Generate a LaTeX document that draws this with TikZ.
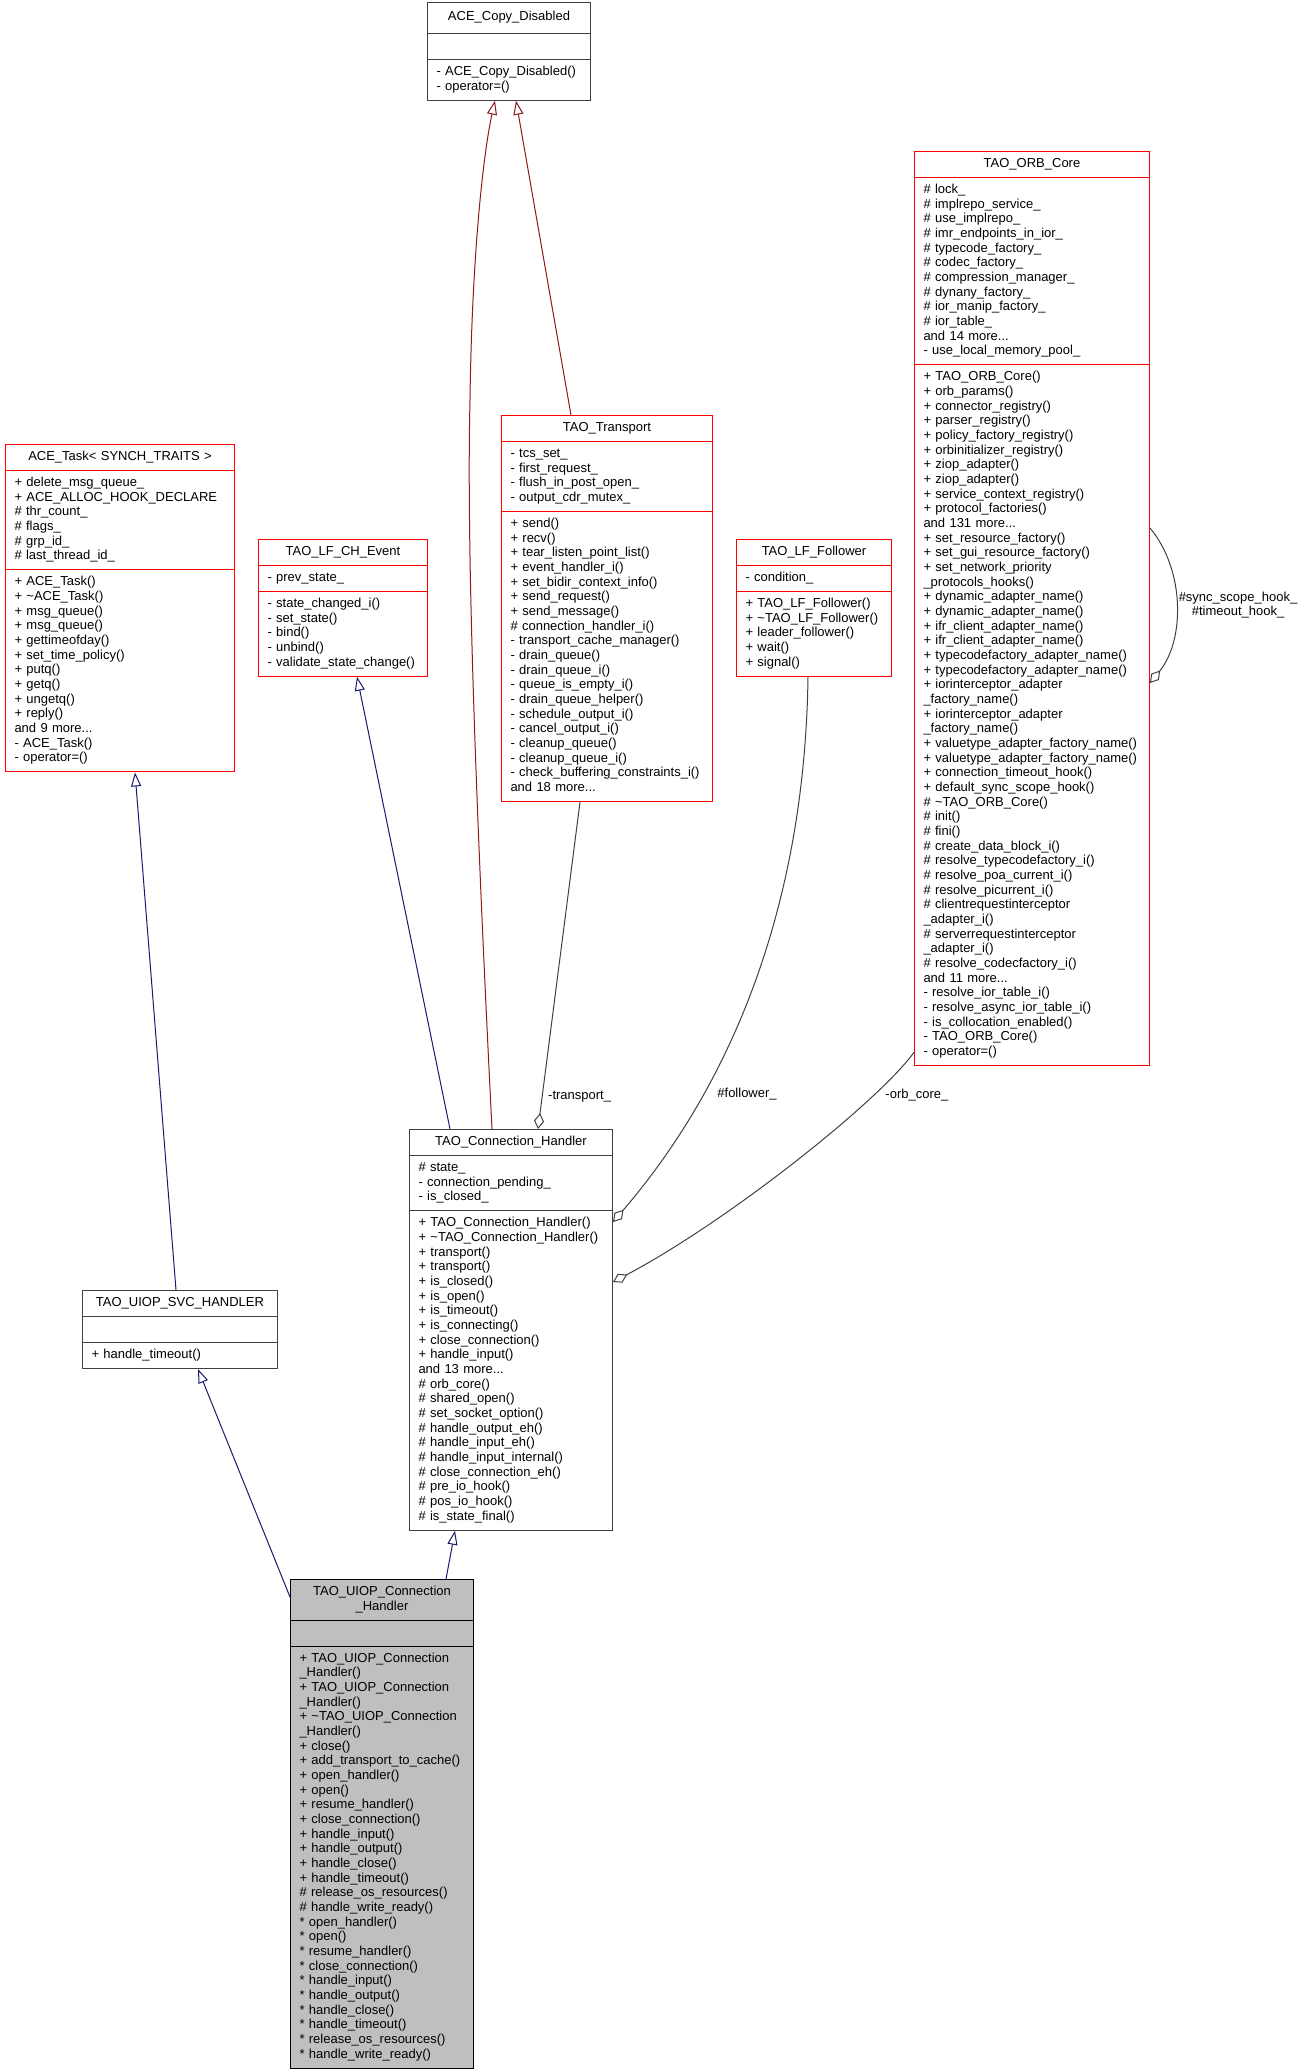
\documentclass[tikz,border=0pt]{standalone}
\usepackage{fontspec}
\setmainfont{Liberation Sans}
\usetikzlibrary{shapes.multipart,arrows.meta,calc}
\definecolor{darkred}{HTML}{8B1A1A}
\definecolor{navy}{HTML}{191970}
\definecolor{edgegrey}{HTML}{404040}
\definecolor{grey75}{HTML}{BFBFBF}
\hyphenpenalty=10000
\newcommand\mbr[1]{\strut#1\strut}
\newcommand\ttl[1]{\makebox[\linewidth]{\strut#1}}
\begin{document}
\begin{tikzpicture}[x=1pt, y=-1pt, font=\fontsize{13}{14.67}\selectfont, line width=1pt,
  cls/.style = {draw=edgegrey, rectangle split, rectangle split parts=3, anchor=north west, inner xsep=9pt, inner ysep=5.17pt, align=left},
  redcls/.style = {cls, draw=red},
  curcls/.style = {cls, draw=black, fill=grey75},
  inh/.style = {navy, -{Triangle[open, length=14pt, width=10pt]}},
  inhred/.style = {darkred, -{Triangle[open, length=14pt, width=10pt]}},
  agg/.style = {edgegrey, -{Diamond[open, length=16pt, width=10pt]}},
  lbl/.style = {inner sep=2pt, align=center, text=black}]
\useasboundingbox (0,0) rectangle (1303,2072);
\node[cls, text width=145pt] (cd) at (427,2) {\makebox[\linewidth]{\rule[-6.9pt]{0pt}{19.67pt}ACE\_Copy\_Disabled}
  \nodepart{two}\mbr{}
  \nodepart{three}\mbr{- ACE\_Copy\_Disabled()\\- operator=()}};
\node[redcls, text width=211pt] (task) at (5,444) {\ttl{ACE\_Task< SYNCH\_TRAITS >}
  \nodepart{two}\mbr{+ delete\_msg\_queue\_\\+ ACE\_ALLOC\_HOOK\_DECLARE\\\# thr\_count\_\\\# flags\_\\\# grp\_id\_\\\# last\_thread\_id\_}
  \nodepart{three}\mbr{+ ACE\_Task()\\+ \textasciitilde ACE\_Task()\\+ msg\_queue()\\+ msg\_queue()\\+ gettimeofday()\\+ set\_time\_policy()\\+ putq()\\+ getq()\\+ ungetq()\\+ reply()\\and 9 more...\\- ACE\_Task()\\- operator=()}};
\node[redcls, text width=151pt] (ev) at (258,539) {\ttl{TAO\_LF\_CH\_Event}
  \nodepart{two}\mbr{- prev\_state\_}
  \nodepart{three}\mbr{- state\_changed\_i()\\- set\_state()\\- bind()\\- unbind()\\- validate\_state\_change()}};
\node[redcls, text width=193pt] (tr) at (501,415) {\ttl{TAO\_Transport}
  \nodepart{two}\mbr{- tcs\_set\_\\- first\_request\_\\- flush\_in\_post\_open\_\\- output\_cdr\_mutex\_}
  \nodepart{three}\mbr{+ send()\\+ recv()\\+ tear\_listen\_point\_list()\\+ event\_handler\_i()\\+ set\_bidir\_context\_info()\\+ send\_request()\\+ send\_message()\\\# connection\_handler\_i()\\- transport\_cache\_manager()\\- drain\_queue()\\- drain\_queue\_i()\\- queue\_is\_empty\_i()\\- drain\_queue\_helper()\\- schedule\_output\_i()\\- cancel\_output\_i()\\- cleanup\_queue()\\- cleanup\_queue\_i()\\- check\_buffering\_constraints\_i()\\and 18 more...}};
\node[redcls, text width=137pt] (fo) at (736,539) {\ttl{TAO\_LF\_Follower}
  \nodepart{two}\mbr{- condition\_}
  \nodepart{three}\mbr{+ TAO\_LF\_Follower()\\+ \textasciitilde TAO\_LF\_Follower()\\+ leader\_follower()\\+ wait()\\+ signal()}};
\node[redcls, text width=217pt] (orb) at (914,151) {\ttl{TAO\_ORB\_Core}
  \nodepart{two}\mbr{\# lock\_\\\# implrepo\_service\_\\\# use\_implrepo\_\\\# imr\_endpoints\_in\_ior\_\\\# typecode\_factory\_\\\# codec\_factory\_\\\# compression\_manager\_\\\# dynany\_factory\_\\\# ior\_manip\_factory\_\\\# ior\_table\_\\and 14 more...\\- use\_local\_memory\_pool\_}
  \nodepart{three}\mbr{+ TAO\_ORB\_Core()\\+ orb\_params()\\+ connector\_registry()\\+ parser\_registry()\\+ policy\_factory\_registry()\\+ orbinitializer\_registry()\\+ ziop\_adapter()\\+ ziop\_adapter()\\+ service\_context\_registry()\\+ protocol\_factories()\\and 131 more...\\+ set\_resource\_factory()\\+ set\_gui\_resource\_factory()\\+ set\_network\_priority\\\_protocols\_hooks()\\+ dynamic\_adapter\_name()\\+ dynamic\_adapter\_name()\\+ ifr\_client\_adapter\_name()\\+ ifr\_client\_adapter\_name()\\+ typecodefactory\_adapter\_name()\\+ typecodefactory\_adapter\_name()\\+ iorinterceptor\_adapter\\\_factory\_name()\\+ iorinterceptor\_adapter\\\_factory\_name()\\+ valuetype\_adapter\_factory\_name()\\+ valuetype\_adapter\_factory\_name()\\+ connection\_timeout\_hook()\\+ default\_sync\_scope\_hook()\\\# \textasciitilde TAO\_ORB\_Core()\\\# init()\\\# fini()\\\# create\_data\_block\_i()\\\# resolve\_typecodefactory\_i()\\\# resolve\_poa\_current\_i()\\\# resolve\_picurrent\_i()\\\# clientrequestinterceptor\\\_adapter\_i()\\\# serverrequestinterceptor\\\_adapter\_i()\\\# resolve\_codecfactory\_i()\\and 11 more...\\- resolve\_ior\_table\_i()\\- resolve\_async\_ior\_table\_i()\\- is\_collocation\_enabled()\\- TAO\_ORB\_Core()\\- operator=()}};
\node[cls, text width=185pt] (ch) at (409,1129) {\ttl{TAO\_Connection\_Handler}
  \nodepart{two}\mbr{\# state\_\\- connection\_pending\_\\- is\_closed\_}
  \nodepart{three}\mbr{+ TAO\_Connection\_Handler()\\+ \textasciitilde TAO\_Connection\_Handler()\\+ transport()\\+ transport()\\+ is\_closed()\\+ is\_open()\\+ is\_timeout()\\+ is\_connecting()\\+ close\_connection()\\+ handle\_input()\\and 13 more...\\\# orb\_core()\\\# shared\_open()\\\# set\_socket\_option()\\\# handle\_output\_eh()\\\# handle\_input\_eh()\\\# handle\_input\_internal()\\\# close\_connection\_eh()\\\# pre\_io\_hook()\\\# pos\_io\_hook()\\\# is\_state\_final()}};
\node[cls, text width=177pt] (svc) at (82,1290) {\ttl{TAO\_UIOP\_SVC\_HANDLER}
  \nodepart{two}\mbr{}
  \nodepart{three}\mbr{+ handle\_timeout()}};
\node[curcls, text width=165pt] (uiop) at (290,1579) {\ttl{TAO\_UIOP\_Connection}\\\ttl{\_Handler}
  \nodepart{two}\mbr{}
  \nodepart{three}\mbr{+ TAO\_UIOP\_Connection\\\_Handler()\\+ TAO\_UIOP\_Connection\\\_Handler()\\+ \textasciitilde TAO\_UIOP\_Connection\\\_Handler()\\+ close()\\+ add\_transport\_to\_cache()\\+ open\_handler()\\+ open()\\+ resume\_handler()\\+ close\_connection()\\+ handle\_input()\\+ handle\_output()\\+ handle\_close()\\+ handle\_timeout()\\\# release\_os\_resources()\\\# handle\_write\_ready()\\{}* open\_handler()\\{}* open()\\{}* resume\_handler()\\{}* close\_connection()\\{}* handle\_input()\\{}* handle\_output()\\{}* handle\_close()\\{}* handle\_timeout()\\{}* release\_os\_resources()\\{}* handle\_write\_ready()}};
\draw[inh] ($(svc.north west)+(94,0)$) -- ($(task.south west)+(130,0)$);
\draw[inh] ($(ch.north west)+(41,0)$) -- ($(ev.south west)+(99,0)$);
\draw[inh] ($(uiop.north west)+(0,18)$) -- ($(svc.south west)+(116,0)$);
\draw[inh] ($(uiop.north west)+(156,0)$) -- ($(ch.south west)+(46,0)$);
\draw[inhred] ($(ch.north west)+(83,0)$) .. controls (478,850) and (466,560) .. (470,400) .. controls (472,250) and (484,150) .. ($(cd.south west)+(68,0)$);
\draw[inhred] ($(tr.north west)+(70,0)$) -- ($(cd.south west)+(89,0)$);
\draw[agg] ($(tr.south west)+(79,0)$) -- node[lbl, pos=0.9, right=3.5pt] {-transport\_} ($(ch.north west)+(129,0)$);
\draw[agg] ($(fo.south west)+(72,0)$) .. controls (805,900) and (735,1080) .. node[lbl, pos=0.72, right=12pt] {\#follower\_} ($(ch.north east)+(0,93)$);
\draw[agg] ($(orb.south west)+(0,-14)$) .. controls (880,1100) and (730,1220) .. node[lbl, pos=0.23, right=9pt] {-orb\_core\_} ($(ch.north east)+(0,153)$);
\draw[agg] ($(orb.north east)+(0,377)$) .. controls (1185,570) and (1185,640) .. node[lbl, pos=0.5, right=0pt] {\#sync\_scope\_hook\_\\\#timeout\_hook\_} ($(orb.north east)+(0,532)$);
\end{tikzpicture}
\end{document}
